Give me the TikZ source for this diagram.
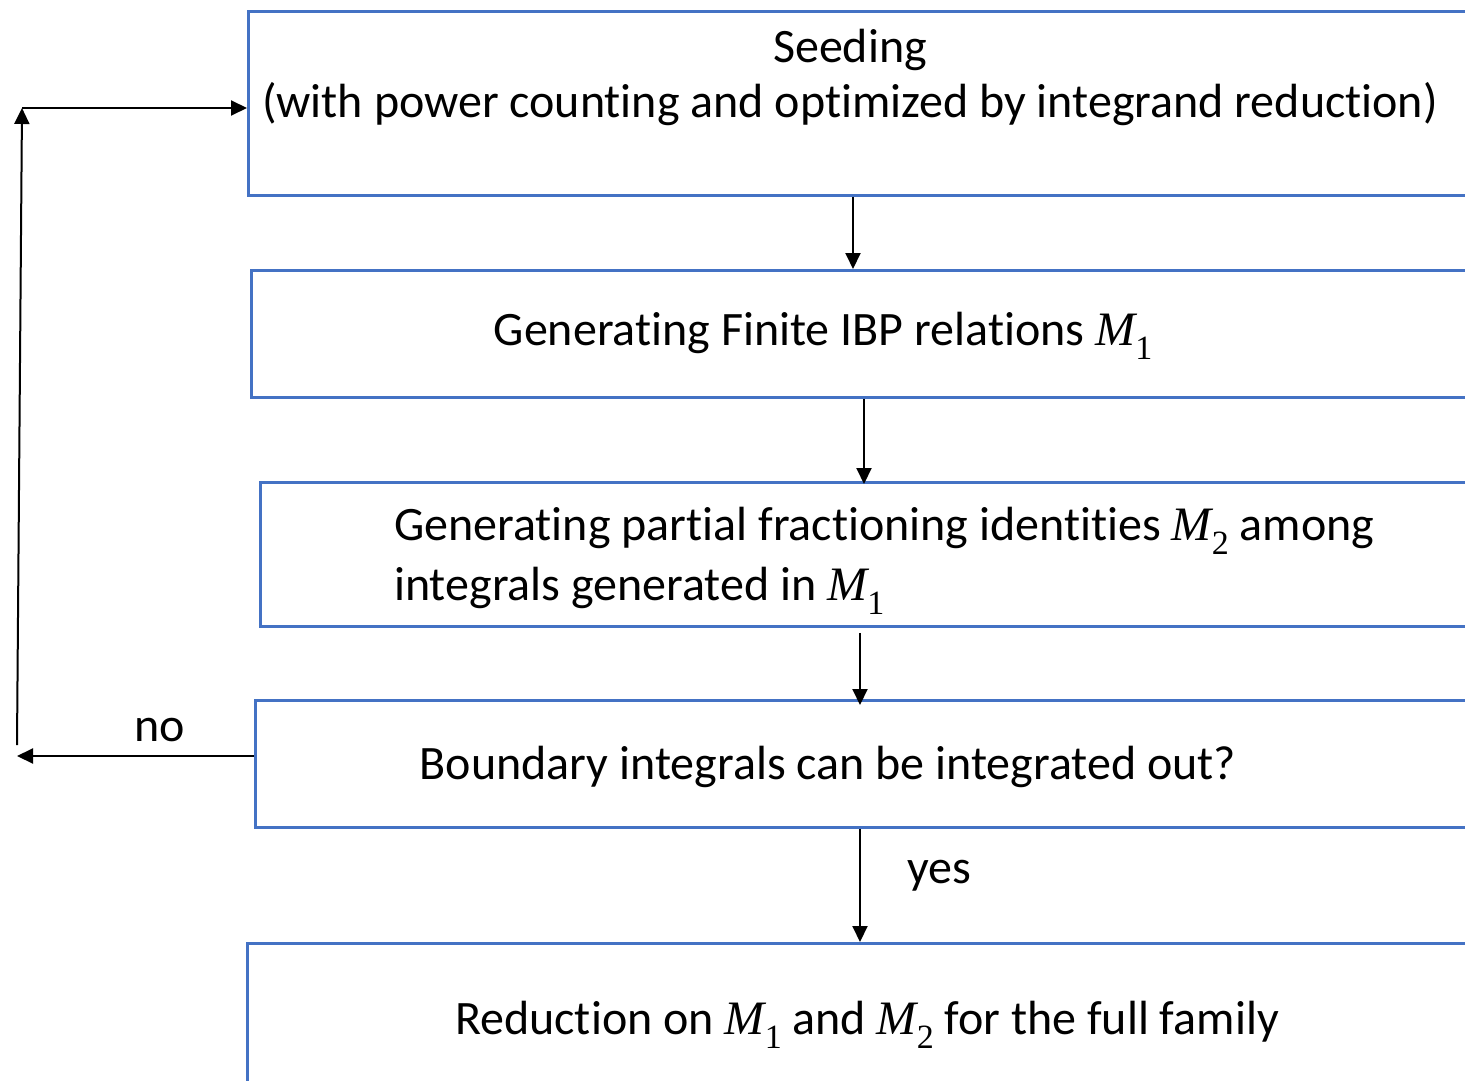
\documentclass[tikz,border=0pt]{standalone}
\usepackage{fontspec}
\setmainfont{Carlito}[Ligatures={NoCommon}]
\newfontfamily\mserif{Liberation Serif}
\newcommand{\Msub}[1]{{\mserif\itshape M}\raisebox{-0.28em}{\mserif\fontsize{34}{34}\selectfont #1}}
\usetikzlibrary{arrows.meta}
\definecolor{boxblue}{HTML}{4472C4}
\tikzset{
  box/.style={draw=boxblue, line width=2.8pt, rectangle, inner sep=0pt, anchor=north west},
  arr/.style={draw=black, line width=2pt, -{Triangle[length=16pt,width=15pt]}},
  lbl/.style={font=\fontsize{48}{55}\selectfont, inner sep=0pt},
}
\begin{document}
\begin{tikzpicture}[x=1pt,y=-1pt]
\useasboundingbox (0,0) rectangle (1465,1081);
\clip (0,0) rectangle (1465,1081);
% boxes
\node[box, minimum width=1300pt, minimum height=184pt] (b1) at (247,10) {};
\node[box, minimum width=1300pt, minimum height=127pt] (b2) at (250,269) {};
\node[box, minimum width=1300pt, minimum height=144pt] (b3) at (259,481) {};
\node[box, minimum width=1300pt, minimum height=127pt] (b4) at (254,699) {};
\node[box, minimum width=1300pt, minimum height=200pt] (b5) at (246,942) {};
% texts
\node[lbl, align=center] (t1) at (850,77) {Seeding\\(with power counting and optimized by integrand reduction)};
\node[lbl] (t2) at (823,336) {Generating Finite IBP relations \Msub{1}};
\node[lbl, align=left, anchor=west] (t3) at (394,561) {Generating partial fractioning identities \Msub{2} among\\[5pt]integrals generated in \Msub{1}};
\node[lbl] (t4) at (828,767) {Boundary integrals can be integrated out?};
\node[lbl] (t5) at (867,1025) {Reduction on \Msub{1} and \Msub{2} for the full family};
\node[lbl] (yes) at (939,876) {yes};
\node[lbl] (no) at (160,730) {no};
% arrows
\draw[arr] (b1.south -| 853,0) -- (b2.north -| 853,0);
\draw[arr] (b2.south -| 864,0) -- ([yshift=-3pt]b3.north -| 864,0);
\draw[arr] ([yshift=-5pt]b3.south -| 860,0) -- ([yshift=-6pt]b4.north -| 860,0);
\draw[arr] (b4.south -| 860,0) -- (b5.north -| 860,0);
% feedback loop
\coordinate (c1) at (17,756);
\coordinate (c2) at (17,745);
\coordinate (c3) at (22,108);
\draw[arr] (b4.west |- c1) -- (c1);
\draw[arr] (c2) -- (c3);
\draw[arr] (c3) -- (b1.west |- c3);
\end{tikzpicture}
\end{document}
